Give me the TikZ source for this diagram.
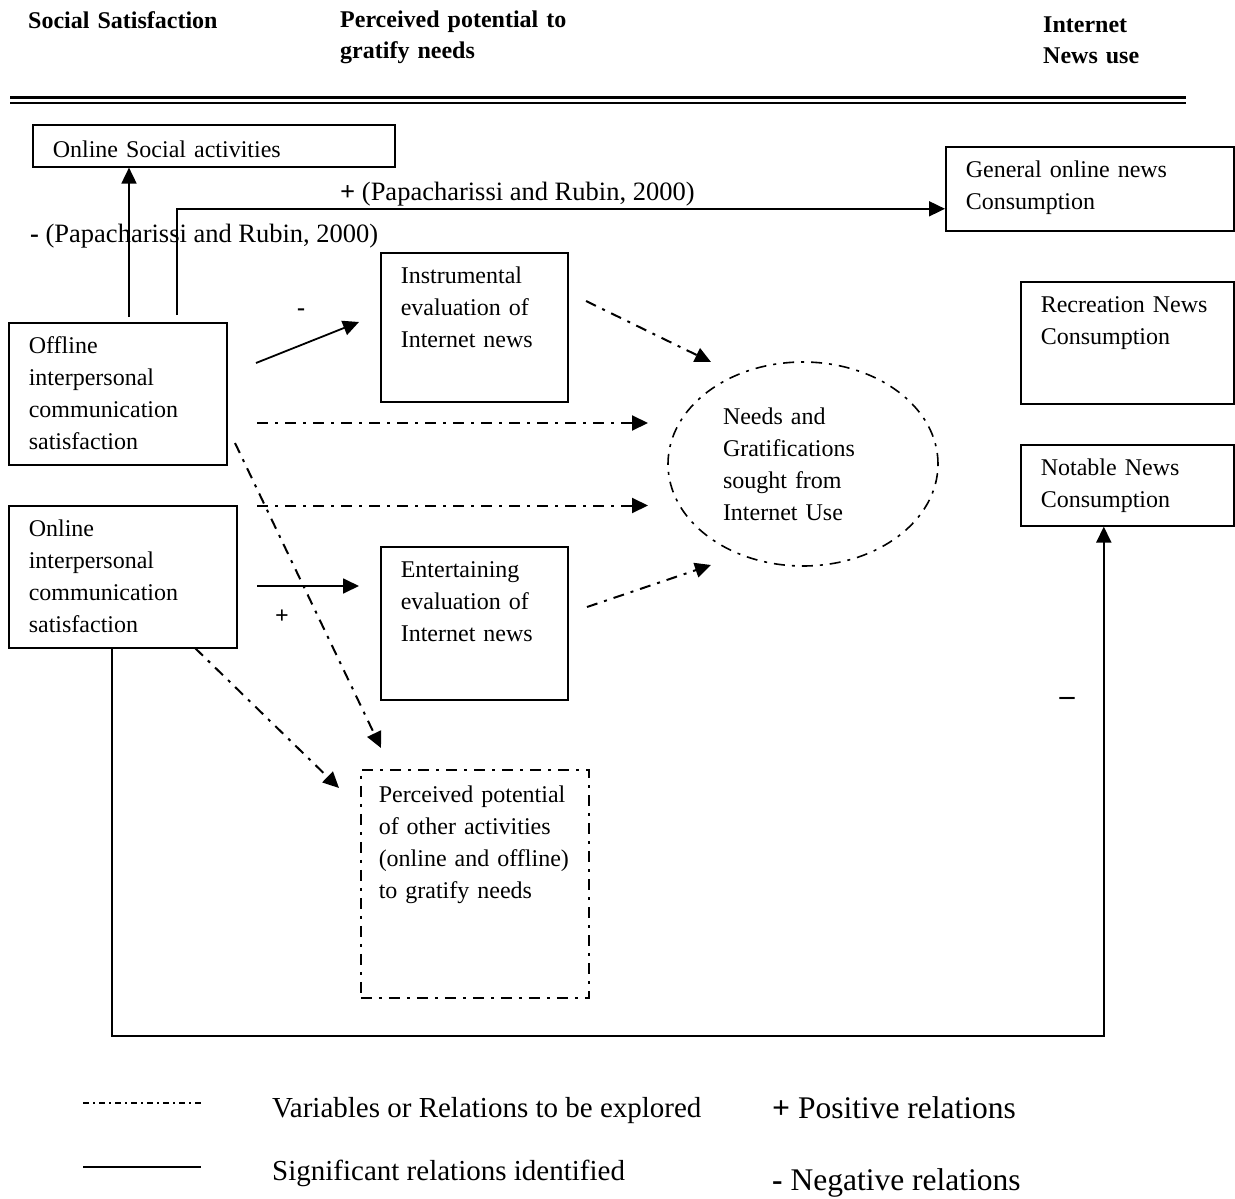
\documentclass[tikz,border=0pt]{standalone}
\usepackage{fontspec}
\setmainfont{Liberation Serif}
\usetikzlibrary{arrows.meta,shapes.geometric}
\begin{document}
\begin{tikzpicture}[x=1pt,y=-1pt,every node/.style={font=\fontsize{24}{32}\selectfont},
  box/.style={draw,line width=1.6pt,anchor=north west,align=left,inner xsep=20pt,inner ysep=0pt,text height=31pt},
  explore/.style={line width=2pt,dash pattern=on 11pt off 7pt on 3pt off 7pt},
  sig/.style={line width=1.8pt},
  tip/.style={-{Triangle[length=16pt,width=15pt]}},
  head/.style={font=\bfseries\fontsize{24}{31}\selectfont,anchor=base west,align=left,inner sep=0pt,text width=260pt},
  cite/.style={font=\fontsize{26.5}{32}\selectfont,anchor=base west,inner sep=0pt},
  sign/.style={font=\bfseries\fontsize{24}{32}\selectfont,inner sep=0pt},
  legend/.style={font=\fontsize{29}{34}\selectfont,anchor=base west,inner sep=0pt}]
  \useasboundingbox (0,0) rectangle (1235,1199);
  \node[head] (hsoc) at (28,29) {Social Satisfaction};
  \node[head] (hpot) at (340,28) {Perceived potential to\\gratify needs};
  \node[head,text width=180pt] (hnews) at (1043,33) {Internet\\News use};
  \draw[line width=2.2pt] (10,97.5) -- (1186,97.5);
  \draw[line width=1.8pt] (10,103) -- (1186,103);

  \node[box,text width=322pt,text height=33pt,text depth=9pt] (osa) at (32,124) {Online Social activities};
  \node[box,text width=248pt,text depth=53pt] (general) at (945,146) {General online news\\Consumption};
  \node[box,text width=147pt,text depth=118pt] (instr) at (380,252) {Instrumental\\evaluation of\\Internet news};
  \node[box,text width=173pt,text depth=91pt] (recre) at (1020,281) {Recreation News\\Consumption};
  \node[box,text width=178pt,text depth=111pt] (offline) at (8,322) {Offline\\interpersonal\\communication\\satisfaction};
  \node[box,text width=173pt,text depth=50pt] (notable) at (1020,444) {Notable News\\Consumption};
  \node[box,text width=188pt,text depth=111pt] (online) at (8,505) {Online\\interpersonal\\communication\\satisfaction};
  \node[box,text width=147pt,text depth=122pt] (entert) at (380,546) {Entertaining\\evaluation of\\Internet news};
  \node[box,explore,line width=1.5pt,inner xsep=18pt,text width=192pt,text height=33pt,text depth=195pt] (potential) at (360,769) {Perceived potential\\of other activities\\(online and offline)\\to gratify needs};
  \node[ellipse,draw,explore,line width=1.6pt,minimum width=270pt,minimum height=204pt,inner sep=0pt,text width=160pt,align=left] (needs) at (803,464) {Needs and\\Gratifications\\sought from\\Internet Use};

  \node[cite] (citepos) at (340,200) {\textbf{+} (Papacharissi and Rubin, 2000)};
  \node[cite] (citeneg) at (30,242) {\textbf{-} (Papacharissi and Rubin, 2000)};
  \node[sign] (signinstr) at (301,312) {-};
  \node[sign] (signentert) at (282,617) {+};
  \node[sign,font=\bfseries\fontsize{30}{32}\selectfont] (signnotable) at (1067,701) {–};

  \coordinate (osaup) at (129,317);
  \coordinate (genup) at (177,315);
  \draw[sig,tip] (osaup) -- (osaup |- osa.south);
  \draw[sig,tip] (genup) |- ([yshift=-20pt]general.west);

  \coordinate (instrfrom) at (256,363);
  \coordinate (instrto) at (359,322);
  \coordinate (entertfrom) at (257,586);
  \coordinate (entertto) at (359,586);
  \draw[sig,tip] (instrfrom) -- (instrto);
  \draw[sig,tip] (entertfrom) -- (entertto);

  \coordinate (offneeds) at (257,423);
  \coordinate (offneedsto) at (648,423);
  \coordinate (onneeds) at (257,505.5);
  \coordinate (onneedsto) at (648,505.5);
  \draw[explore,tip] (offneeds) -- (offneedsto);
  \draw[explore,tip] (onneeds) -- (onneedsto);

  \coordinate (offpot) at (235,443);
  \coordinate (offpotto) at (381,748);
  \coordinate (onpot) at (195,648);
  \coordinate (onpotto) at (339,788);
  \draw[explore,tip] (offpot) -- (offpotto);
  \draw[explore,tip] (onpot) -- (onpotto);

  \coordinate (instrneeds) at (586,301);
  \coordinate (instrneedsto) at (711,362);
  \coordinate (entertneeds) at (587,607);
  \coordinate (entertneedsto) at (711,565);
  \draw[explore,tip] (instrneeds) -- (instrneedsto);
  \draw[explore,tip] (entertneeds) -- (entertneedsto);

  \draw[sig,tip] ([xshift=104pt]online.south west) -- ++(0,387) -| ([xshift=-23.5pt]notable.south);

  \coordinate (keyexp) at (83,1103);
  \coordinate (keyexpend) at (201,1103);
  \coordinate (keysig) at (83,1167);
  \coordinate (keysigend) at (201,1167);
  \draw[line width=1.5pt,dash pattern=on 6pt off 4pt on 2pt off 4pt] (keyexp) -- (keyexpend);
  \draw[line width=2.2pt] (keysig) -- (keysigend);
  \node[legend] (lexp) at (272,1117) {Variables or Relations to be explored};
  \node[legend] (lsig) at (272,1180) {Significant relations identified};
  \node[legend,font=\fontsize{31.5}{34}\selectfont] (lpos) at (772,1118) {\textbf{+} Positive relations};
  \node[legend,font=\fontsize{31.5}{34}\selectfont] (lneg) at (772,1190) {\textbf{-} Negative relations};
\end{tikzpicture}
\end{document}
